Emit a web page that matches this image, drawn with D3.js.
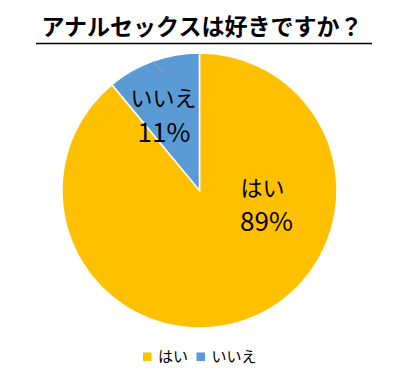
<!DOCTYPE html>
<html><head><meta charset="utf-8">
<script src="https://cdn.jsdelivr.net/npm/d3@7"></script>
<style>body{margin:0;background:#fff}svg{display:block}</style>
</head><body>
<svg id="c" width="412" height="379"></svg>
<script>
const title = "アナルセックスは好きですか？";
const categories = ["はい", "いいえ"];
const values = [89, 11];
const colors = ["#FFC000", "#5B9BD5"];

const svg = d3.select("#c");
const font = "'Noto Sans CJK JP', sans-serif";
const cx = 199.5, cy = 190.5, r = 137.5;

svg.append("text").attr("x", 202).attr("y", 35).attr("text-anchor", "middle")
  .attr("font-family", font).attr("font-weight", "bold").attr("font-size", 23)
  .attr("fill", "#000").text(title);
svg.append("line").attr("x1", 36).attr("x2", 372).attr("y1", 43.5).attr("y2", 43.5)
  .attr("stroke", "#000").attr("stroke-width", 1.5);

const pie = d3.pie().sort(null).value(d => d)(values);
const arc = d3.arc().innerRadius(0).outerRadius(r);
const g = svg.append("g").attr("transform", `translate(${cx},${cy})`);
g.selectAll("path").data(pie).join("path")
  .attr("d", arc).attr("fill", (d, i) => colors[i])
  .attr("stroke", "#fff").attr("stroke-width", 1.5);

// leader line for いいえ
g.append("line").attr("x1", -47).attr("y1", -129).attr("x2", -37).attr("y2", -118)
  .attr("stroke", "#a6a6a6").attr("stroke-width", 1);

const namePos = [[63, 5.5], [-36, -85]];
const pctPos = [[67, 40.5], [-35.5, -48.5]];
categories.forEach((c, i) => {
  g.append("text").attr("text-anchor", "middle").attr("x", namePos[i][0]).attr("y", namePos[i][1])
    .attr("font-family", font).attr("font-size", 22).attr("fill", "#000").text(c);
  g.append("text").attr("text-anchor", "middle").attr("x", pctPos[i][0]).attr("y", pctPos[i][1])
    .attr("font-family", font).attr("font-size", 26).attr("fill", "#000").text(values[i] + "%");
});

// legend
const lg = svg.append("g");
let lx = 143;
categories.forEach((c, i) => {
  lg.append("rect").attr("x", lx).attr("y", 352.5).attr("width", 8.5).attr("height", 8.5).attr("fill", colors[i]);
  lg.append("text").attr("x", lx + 15).attr("y", 362)
    .attr("font-family", font).attr("font-size", 15).attr("fill", "#000").text(c);
  lx += 53.5;
});
</script>
</body></html>
